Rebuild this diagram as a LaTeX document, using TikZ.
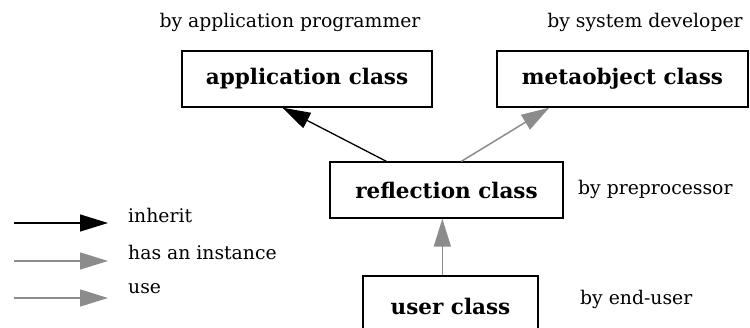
\documentclass[tikz,border=0pt]{standalone}
\usepackage{fontspec}
\setmainfont{DejaVu Serif}
\usepackage{tikz}
\usetikzlibrary{arrows.meta,positioning}
\definecolor{usegray}{HTML}{8C8C8C}

\begin{document}
\begin{tikzpicture}[x=1pt, y=-1pt,
  classbox/.style={draw, line width=1.3pt, minimum width=#1, minimum height=56pt, inner sep=0pt, font=\fontsize{21.5}{24}\selectfont\bfseries},
  who/.style={font=\fontsize{18.8}{22}\selectfont, inner sep=0pt},
  inherit/.style={-{Triangle[length=28pt, width=17pt]}, line width=1.3pt, draw=black},
  grayarrow/.style={-{Triangle[length=28pt, width=17pt]}, line width=1.5pt, draw=usegray, color=usegray}
]
\clip (0,0) rectangle (750,328);

% Classes
\node[classbox=250pt] (app) at (307,79) {application class};
\node[classbox=251pt] (meta) at (622.5,79) {metaobject class};
\node[classbox=233pt] (refl) at (446.5,190) {reflection class};
\node[classbox=175pt, minimum height=60pt] (user) at (450.5,306) {user class};

% Who writes them
\node[who] (appby) at (290,22) {by application programmer};
\node[who] (metaby) at (645,22) {by system developer};
\node[who, anchor=west] (reflby) at (578,189) {by preprocessor};
\node[who, anchor=west] (userby) at (580,299) {by end-user};

% Arrows
\draw[inherit] ([xshift=57pt]refl.north west) -- ([xshift=101pt]app.south west);
\draw[grayarrow] ([xshift=132pt]refl.north west) -- ([xshift=53pt]meta.south west);
\draw[grayarrow] ([xshift=80pt]user.north west) -- ([xshift=113pt]refl.south west);

% Legend
\coordinate (k1a) at (14,223); \coordinate (k1b) at (108,223);
\coordinate (k2a) at (14,261); \coordinate (k2b) at (108,261);
\coordinate (k3a) at (14,298); \coordinate (k3b) at (108,298);
\draw[inherit] (k1a) -- (k1b);
\draw[grayarrow] (k2a) -- (k2b);
\draw[grayarrow] (k3a) -- (k3b);
\node[who, anchor=west] (inh) at (128,215) {inherit};
\node[who, anchor=west] (has) at (128,252) {has an instance};
\node[who, anchor=west] (use) at (128,289) {use};

\end{tikzpicture}
\end{document}
